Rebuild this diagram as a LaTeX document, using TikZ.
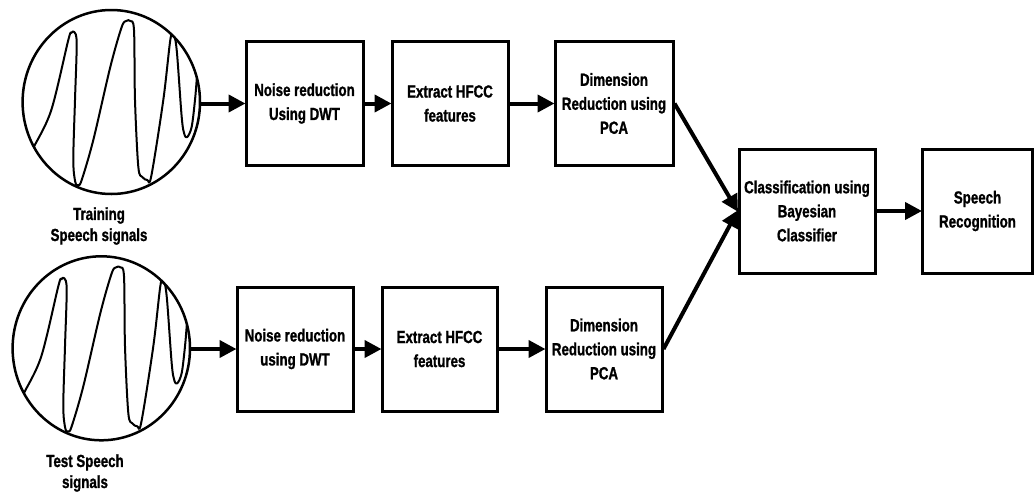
\documentclass[tikz,border=0pt]{standalone}
\usepackage{fontspec}
\newfontfamily\lbf{Liberation Sans}[FakeStretch=0.76, BoldFeatures={FakeBold=1.2}]
\usetikzlibrary{arrows.meta,shapes.geometric}
\tikzset{
  box/.style={draw, line width=3pt, minimum height=124pt, inner sep=0pt, align=center,
    font=\lbf\bfseries\fontsize{17.5}{24}\selectfont},
  lbl/.style={inner sep=0pt, align=center, font=\lbf\bfseries\fontsize{17.5}{21}\selectfont},
  disc/.style={draw, ellipse, line width=2.5pt, inner sep=0pt, minimum width=177.4pt, minimum height=184pt},
  flow/.style={line width=4pt, -{Triangle[length=17pt,width=17pt]}, shorten >=-1pt},
  wave/.style={line width=2pt, line join=round}
}
\newcommand{\wavepath}{plot[smooth, tension=0.55] coordinates {
  (-80,51) (-77.3,44.7) (-60,8) (-43,-62) (-40,-69) (-37,-70) (-34.6,-58.7) (-36.3,-2) (-38,58) (-36,80) (-33,83)
  (-29.6,78) (-18,38) (-1,-35) (10.4,-75) (15,-81) (19,-81) (22.7,-72) (23.7,-2) (27,64.7) (31,75) (36,78)
  (40,74) (52,-2) (59,-62) (62,-68) (65.4,-52) (70.4,15) (73,32) (76,35)
  (80.4,24.7) (83.7,-2) (85.4,-22) (87,-40)}}
\begin{document}
\begin{tikzpicture}[x=1pt,y=-1pt]
\useasboundingbox (0,0) rectangle (1035,493);
% circles
\node[disc] (c1) at (111.3,102) {};
\node[disc] (c2) at (101.3,348.3) {};
\begin{scope}
  \clip (c1.center) ellipse [x radius=88.7pt, y radius=92pt];
  \draw[wave, shift={(c1.center)}] \wavepath;
\end{scope}
\begin{scope}
  \clip (c2.center) ellipse [x radius=88.7pt, y radius=92pt];
  \draw[wave, shift={(c2.center)}] \wavepath;
\end{scope}
\node[lbl] (tl) at (99,226) {Training\\Speech signals};
\node[lbl] (bl) at (85,473) {Test Speech\\signals};
% top row
\node[box, minimum width=117pt] (t1) at (304.5,103.5) {Noise reduction\\Using DWT};
\node[box, minimum width=116pt] (t2) at (450,103.5) {Extract HFCC\\features};
\node[box, minimum width=118pt] (t3) at (614,103.5) {Dimension\\Reduction using\\PCA};
% bottom row
\node[box, minimum width=116pt] (b1) at (295,349) {Noise reduction\\using DWT};
\node[box, minimum width=115pt] (b2) at (439.5,349) {Extract HFCC\\features};
\node[box, minimum width=116pt] (b3) at (604,349) {Dimension\\Reduction using\\PCA};
% right
\node[box, minimum width=136pt] (cl) at (807,211) {Classification using\\Bayesian\\Classifier};
\node[box, minimum width=110pt] (sr) at (977.5,211) {Speech\\Recognition};
% connectors
\draw[flow] (c1.east |- t1.west) -- (t1.west);
\draw[flow] (t1) -- (t2);
\draw[flow] (t2) -- (t3);
\draw[flow] (c2.east |- b1.west) -- (b1.west);
\draw[flow] (b1) -- (b2);
\draw[flow] (b2) -- (b3);
\draw[flow] (t3.east) -- (cl.west);
\draw[flow] (b3.east) -- (cl.west);
\draw[flow] (cl) -- (sr);
\end{tikzpicture}
\end{document}
